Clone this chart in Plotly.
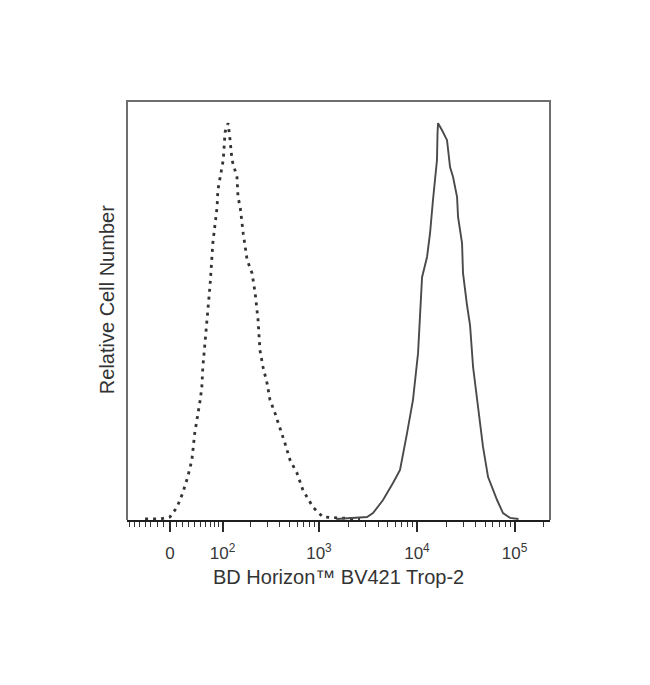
import numpy as np
import plotly.graph_objects as go

# ---------------- data ----------------
# Isotype control (dashed): fluorescence intensity and relative cell number
iso_intensity = [-40, -15, 0, 11, 20, 28, 35, 40, 50, 53, 55, 63, 66, 70, 76, 86, 88, 102, 107, 116,
                 122, 128, 145, 149, 157, 169, 186, 209, 225, 235, 241, 252, 271, 298, 319, 358, 403,
                 452, 509, 599, 688, 870, 1098, 1526, 2617]
iso_count = [0, 0, 0.5, 3.0, 6.6, 10.6, 14.9, 21.7, 30.1, 33.3, 38.4, 50.0, 55.3, 59.3, 69.7, 78.8, 83.1,
             90.7, 97.7, 100, 95.7, 90.7, 86.4, 81.3, 78.8, 72.2, 65.4, 62.1, 57.1, 52.8, 50.3, 42.7,
             38.4, 34.3, 30.1, 26.8, 23.2, 19.2, 14.9, 11.6, 7.3, 3.0, 0.5, 0.3, 0]

# BV421 Trop-2 stained cells (solid)
stain_intensity = [1500, 2069, 3088, 3553, 4500, 5687, 6712, 7919, 9111, 10266, 10750, 11000, 11283,
                   12686, 13624, 14596, 16041, 16250, 16450, 18080, 20330, 21834, 23448, 25769, 26370,
                   28977, 29654, 32590, 34995, 37585, 41307, 44260, 47534, 53580, 66215, 76200, 89935,
                   110000]
stain_count = [0, 0.3, 0.5, 1.5, 4.8, 9.1, 12.4, 21.7, 30.1, 41.9, 50.3, 55.3, 61.1, 66.2, 72.2, 80.6,
               90.7, 97.5, 100, 98.2, 95.7, 88.9, 86.4, 81.3, 76.3, 69.7, 62.1, 54.0, 49.0, 38.4, 30.1,
               23.2, 18.2, 10.6, 4.8, 1.5, 0.3, 0]

major_tick_values = [0, 100, 1000, 10000, 100000]
major_tick_labels = ["0", "10<sup>2</sup>", "10<sup>3</sup>", "10<sup>4</sup>", "10<sup>5</sup>"]
minor_tick_values = ([-70, -60, -50, -40, -30, -20, -10]
                     + [10, 20, 30, 40, 50, 60, 70, 80, 90]
                     + [200, 300, 400, 500, 600, 700, 800, 900]
                     + [2000, 3000, 4000, 5000, 6000, 7000, 8000, 9000]
                     + [20000, 30000, 40000, 50000, 60000, 70000, 80000, 90000, 200000])
intensity_range = [-76, 231000]

x_title = "BD Horizon™ BV421 Trop-2"
y_title = "Relative Cell Number"

# ------------- biexponential (logicle-like) display scale -------------
C_SCALE, P_WIDTH = 29.3, 1.22


def _biex_value(u):
    u = np.asarray(u, dtype=float)
    a = np.abs(u)
    v = C_SCALE * (10 ** a - P_WIDTH ** 2 * 10 ** (-a / P_WIDTH) + P_WIDTH ** 2 - 1)
    return np.sign(u) * v


_grid_u = np.linspace(-2, 5, 70001)
_grid_v = _biex_value(_grid_u)


def biex(values):
    return np.interp(np.asarray(values, dtype=float), _grid_v, _grid_u)


fig = go.Figure()
fig.add_trace(go.Scatter(x=biex(iso_intensity), y=iso_count, mode="lines",
                         line=dict(color="#333333", width=2.8, dash="3px,5px"),
                         showlegend=False, hoverinfo="skip"))
fig.add_trace(go.Scatter(x=biex(stain_intensity), y=stain_count, mode="lines",
                         line=dict(color="#4a4a4a", width=1.9),
                         showlegend=False, hoverinfo="skip"))

font_family = "Liberation Sans, Arial, sans-serif"

fig.update_layout(
    width=650, height=685,
    margin=dict(l=119, r=108, t=93, b=173),
    plot_bgcolor="white", paper_bgcolor="white",
    font=dict(family=font_family, color="#333333"),
    xaxis=dict(
        range=list(biex(intensity_range)),
        showgrid=False, zeroline=False,
        showline=True, linecolor="#1e1e1e", linewidth=2,
        ticks="outside", ticklen=10, tickwidth=1.6, tickcolor="#2a2a2a",
        tickmode="array", tickvals=list(biex(major_tick_values)), ticktext=major_tick_labels,
        tickfont=dict(size=17, color="#383838"),
        ticklabelstandoff=7,
        minor=dict(tickmode="array", tickvals=list(biex(minor_tick_values)),
                   ticks="outside", ticklen=5, tickwidth=1.3, tickcolor="#333333", showgrid=False),
    ),
    yaxis=dict(range=[-0.25, 105.6], showgrid=False, zeroline=False, showticklabels=False,
               ticks="", showline=False),
    shapes=[dict(type="path", xref="paper", yref="paper",
                 path="M 0,0 L 0,1 L 1,1 L 1,0",
                 line=dict(color="#6e6e6e", width=2), layer="above")],
    annotations=[
        dict(text=x_title, xref="paper", yref="paper", x=0.5, y=-0.135, xanchor="center",
             yanchor="middle", showarrow=False, font=dict(size=20, color="#333333")),
        dict(text=y_title, xref="paper", yref="paper", x=-0.047, y=0.525, xanchor="center",
             yanchor="middle", textangle=-90, showarrow=False, font=dict(size=20, color="#333333")),
    ],
)

fig.write_html("out.html")
